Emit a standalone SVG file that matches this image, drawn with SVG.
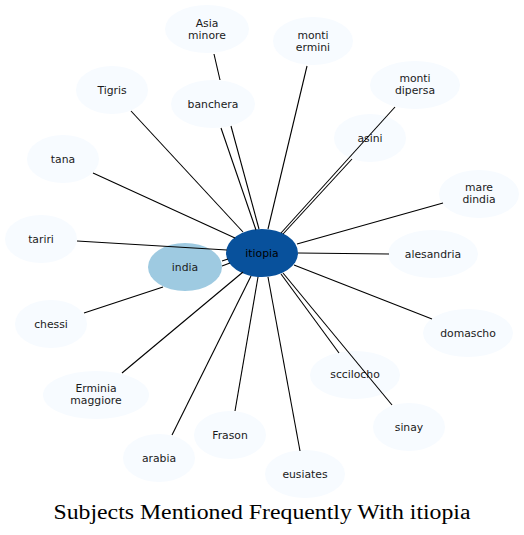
<svg xmlns="http://www.w3.org/2000/svg" width="524" height="535" viewBox="0 0 524 535">
<style>
.n{fill:#f7fbff;stroke:none}
.t{font-family:"DejaVu Sans",sans-serif;font-size:10.8px;fill:#1a1a1a;text-anchor:middle}
.e line{stroke:#000;stroke-width:1.1}
.title{font-family:"Liberation Serif",serif;font-size:20.5px;fill:#000;text-anchor:middle}
</style>
<rect width="524" height="535" fill="#fff"/>
<g id="node-asia-minore"><ellipse class="n" cx="207" cy="29" rx="42" ry="24"/><text class="t" x="207" y="27">Asia</text><text class="t" x="207" y="39">minore</text></g>
<g id="node-monti-ermini"><ellipse class="n" cx="313" cy="41" rx="40" ry="24"/><text class="t" x="313" y="39">monti</text><text class="t" x="313" y="51">ermini</text></g>
<g id="node-tigris"><ellipse class="n" cx="112" cy="90" rx="36" ry="24"/><text class="t" x="112" y="93.5">Tigris</text></g>
<g id="node-banchera"><ellipse class="n" cx="213" cy="104" rx="42" ry="24"/><text class="t" x="213" y="107.5">banchera</text></g>
<g id="node-monti-dipersa"><ellipse class="n" cx="415" cy="85" rx="45" ry="24"/><text class="t" x="415" y="82">monti</text><text class="t" x="415" y="94">dipersa</text></g>
<g id="node-asini"><ellipse class="n" cx="370" cy="138" rx="36" ry="24"/><text class="t" x="370" y="141.5">asini</text></g>
<g id="node-tana"><ellipse class="n" cx="63" cy="159" rx="36" ry="24"/><text class="t" x="63" y="162.5">tana</text></g>
<g id="node-mare-dindia"><ellipse class="n" cx="479" cy="194" rx="40" ry="24"/><text class="t" x="479" y="191">mare</text><text class="t" x="479" y="203">dindia</text></g>
<g id="node-tariri"><ellipse class="n" cx="41" cy="239" rx="36" ry="24"/><text class="t" x="41" y="242.5">tariri</text></g>
<g id="node-alesandria"><ellipse class="n" cx="433" cy="254" rx="45" ry="24"/><text class="t" x="433" y="257.5">alesandria</text></g>
<g id="node-chessi"><ellipse class="n" cx="51" cy="324" rx="36" ry="24"/><text class="t" x="51" y="327.5">chessi</text></g>
<g id="node-domascho"><ellipse class="n" cx="468" cy="333" rx="45" ry="24"/><text class="t" x="468" y="336.5">domascho</text></g>
<g id="node-sccilocho"><ellipse class="n" cx="355" cy="375" rx="45" ry="24"/><text class="t" x="355" y="377.5">sccilocho</text></g>
<g id="node-erminia-maggiore"><ellipse class="n" cx="96" cy="395" rx="53" ry="24"/><text class="t" x="96" y="392">Erminia</text><text class="t" x="96" y="404">maggiore</text></g>
<g id="node-sinay"><ellipse class="n" cx="409" cy="427" rx="36" ry="24"/><text class="t" x="409" y="430.5">sinay</text></g>
<g id="node-frason"><ellipse class="n" cx="230" cy="435" rx="36" ry="24"/><text class="t" x="230" y="438.5">Frason</text></g>
<g id="node-arabia"><ellipse class="n" cx="159" cy="458" rx="36" ry="24"/><text class="t" x="159" y="461.5">arabia</text></g>
<g id="node-eusiates"><ellipse class="n" cx="305" cy="474" rx="40" ry="24"/><text class="t" x="305" y="477.5">eusiates</text></g>
<g id="node-india"><ellipse cx="185" cy="267" rx="37" ry="24" fill="#9ecae1"/><text class="t" x="185" y="270.5">india</text></g>
<g id="node-itiopia"><ellipse cx="262" cy="253" rx="36" ry="24" fill="#08519c"/><text class="t" x="262" y="256.5" style="fill:#000">itiopia</text></g>
<g id="edges" class="e">
<line x1="214" y1="54" x2="220" y2="80"/>
<line x1="221" y1="128" x2="256" y2="230"/>
<line x1="231" y1="126" x2="259" y2="229"/>
<line x1="131" y1="111" x2="243" y2="232"/>
<line x1="93" y1="173" x2="235" y2="238"/>
<line x1="77" y1="241" x2="227" y2="250"/>
<line x1="307" y1="66" x2="268" y2="229"/>
<line x1="395" y1="107" x2="281" y2="233"/>
<line x1="352" y1="159" x2="283" y2="234"/>
<line x1="443" y1="203" x2="297" y2="244"/>
<line x1="389" y1="254" x2="298" y2="253"/>
<line x1="432" y1="319" x2="294" y2="265"/>
<line x1="339" y1="353" x2="281" y2="274"/>
<line x1="392" y1="405" x2="283" y2="273"/>
<line x1="300" y1="451" x2="268" y2="277"/>
<line x1="235" y1="411" x2="258" y2="277"/>
<line x1="172" y1="435" x2="251" y2="276"/>
<line x1="122" y1="373" x2="243" y2="272"/>
<line x1="84" y1="313" x2="163" y2="287"/>
<line x1="222" y1="261" x2="228" y2="259"/>
<line x1="222" y1="266" x2="230" y2="263"/>
</g>
<text class="title" x="262" y="519" textLength="417" lengthAdjust="spacingAndGlyphs">Subjects Mentioned Frequently With itiopia</text>
</svg>
